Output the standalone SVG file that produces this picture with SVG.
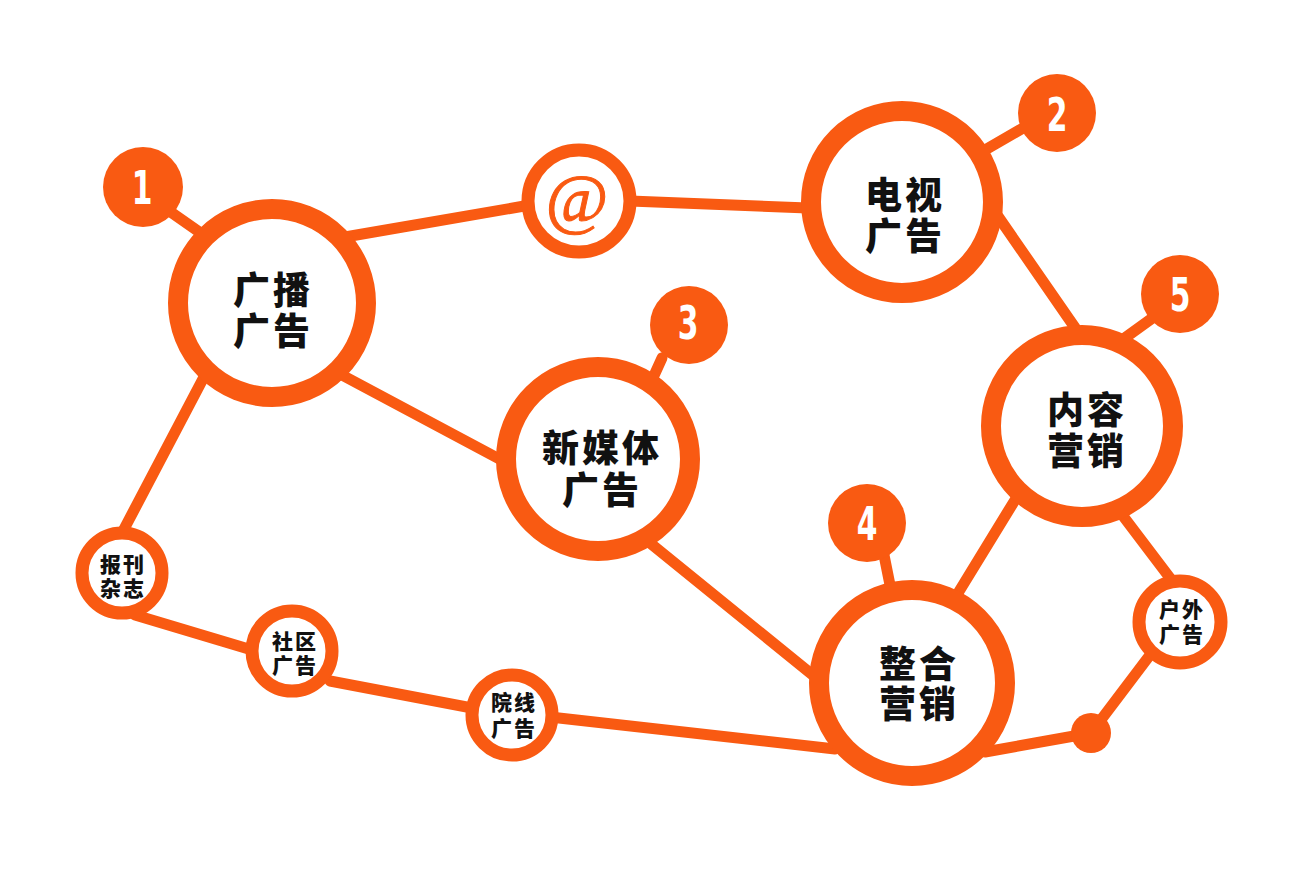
<svg xmlns="http://www.w3.org/2000/svg" width="1300" height="878" viewBox="0 0 1300 878">
<style>
.ln{stroke:#F95A12;stroke-width:11;stroke-linecap:round;fill:none}
.big{fill:#fff;stroke:#F95A12;stroke-width:20}
.sm{fill:#fff;stroke:#F95A12;stroke-width:13}
.badge{fill:#F95A12}
.dot{fill:#F95A12}
.t{font-family:"Noto Sans CJK SC","Noto Sans",sans-serif;font-weight:900;fill:#111;text-anchor:middle}
.tb{font-size:37px;letter-spacing:3px}
.ts{font-size:21px;letter-spacing:2px}
.num{font-family:"Liberation Sans Narrow","DejaVu Sans Condensed","Liberation Sans",sans-serif;font-weight:bold;font-size:46px;fill:#fff;text-anchor:middle}
.at{font-family:"Liberation Serif","DejaVu Serif",serif;font-size:68px;fill:#F95A12;text-anchor:middle;stroke:#F95A12;stroke-width:1}
</style>
<rect width="1300" height="878" fill="#fff"/>
<g id="connectors">
<line class="ln" x1="165" y1="208" x2="205" y2="236"/>
<line class="ln" x1="345" y1="237" x2="530" y2="205"/>
<line class="ln" x1="630" y1="201" x2="808" y2="208"/>
<line class="ln" x1="985" y1="150" x2="1030" y2="124"/>
<line class="ln" x1="995" y1="212" x2="1078" y2="332"/>
<line class="ln" x1="1122" y1="340" x2="1158" y2="314"/>
<line class="ln" x1="340" y1="374" x2="505" y2="462"/>
<line class="ln" x1="662" y1="358" x2="652" y2="380"/>
<line class="ln" x1="650" y1="543" x2="825" y2="685"/>
<line class="ln" x1="884" y1="555" x2="890" y2="585"/>
<line class="ln" x1="955" y1="598" x2="1015" y2="500"/>
<line class="ln" x1="1120" y1="512" x2="1170" y2="578"/>
<line class="ln" x1="1150" y1="655" x2="1091" y2="733"/>
<line class="ln" x1="1091" y1="733" x2="985" y2="752"/>
<line class="ln" x1="550" y1="717" x2="835" y2="749"/>
<line class="ln" x1="330" y1="681" x2="472" y2="708"/>
<line class="ln" x1="135" y1="615" x2="252" y2="650"/>
<line class="ln" x1="205" y1="375" x2="122" y2="533"/>
</g>
<g id="badge1"><circle class="badge" cx="143" cy="187" r="40"/><text class="num" transform="translate(142 204) scale(0.72 1)">1</text></g>
<g id="badge2"><circle class="badge" cx="1057" cy="113" r="39"/><text class="num" transform="translate(1057 131) scale(0.72 1)">2</text></g>
<g id="badge3"><circle class="badge" cx="689" cy="325" r="39"/><text class="num" transform="translate(688 339) scale(0.72 1)">3</text></g>
<g id="badge4"><circle class="badge" cx="867" cy="523" r="39"/><text class="num" transform="translate(867 540) scale(0.72 1)">4</text></g>
<g id="badge5"><circle class="badge" cx="1180" cy="294" r="39"/><text class="num" transform="translate(1180 311) scale(0.72 1)">5</text></g>
<g id="node-guangbo"><circle class="big" cx="272" cy="303" r="94"/><text class="t tb"><tspan x="273" y="304">广播</tspan><tspan x="273" y="345">广告</tspan></text></g>
<g id="node-at"><circle class="sm" cx="579" cy="201" r="51"/><text class="at" x="577" y="221">@</text></g>
<g id="node-dianshi"><circle class="big" cx="902" cy="202" r="91"/><text class="t tb"><tspan x="905" y="209">电视</tspan><tspan x="905" y="250">广告</tspan></text></g>
<g id="node-xinmeiti"><circle class="big" cx="598" cy="459" r="92"/><text class="t tb"><tspan x="602" y="462">新媒体</tspan><tspan x="602" y="504">广告</tspan></text></g>
<g id="node-neirong"><circle class="big" cx="1082" cy="426" r="91"/><text class="t tb"><tspan x="1087" y="424">内容</tspan><tspan x="1087" y="465">营销</tspan></text></g>
<g id="node-zhenghe"><circle class="big" cx="912" cy="683" r="93"/><text class="t tb"><tspan x="919" y="678">整合</tspan><tspan x="919" y="718">营销</tspan></text></g>
<g id="node-baokan"><circle class="sm" cx="122" cy="573" r="40"/><text class="t ts"><tspan x="123" y="572">报刊</tspan><tspan x="123" y="596">杂志</tspan></text></g>
<g id="node-shequ"><circle class="sm" cx="292" cy="651" r="40"/><text class="t ts"><tspan x="295" y="649">社区</tspan><tspan x="295" y="673">广告</tspan></text></g>
<g id="node-yuanxian"><circle class="sm" cx="512" cy="715" r="40"/><text class="t ts"><tspan x="514" y="710">院线</tspan><tspan x="514" y="736">广告</tspan></text></g>
<g id="node-huwai"><circle class="sm" cx="1180" cy="622" r="41"/><text class="t ts"><tspan x="1182" y="617">户外</tspan><tspan x="1182" y="642">广告</tspan></text></g>
<g id="node-dot"><circle class="dot" cx="1091" cy="733" r="20"/></g>
</svg>
